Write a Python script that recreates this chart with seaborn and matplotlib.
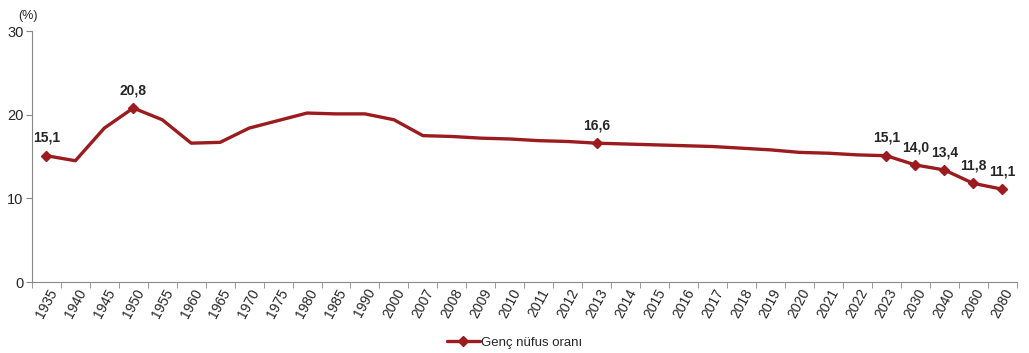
import numpy as np
import pandas as pd
import seaborn as sns
import matplotlib.pyplot as plt

# ---------------------------------------------------------
# Data
# ---------------------------------------------------------
years = ["1935", "1940", "1945", "1950", "1955", "1960", "1965", "1970", "1975",
         "1980", "1985", "1990", "2000", "2007", "2008", "2009", "2010", "2011",
         "2012", "2013", "2014", "2015", "2016", "2017", "2018", "2019", "2020",
         "2021", "2022", "2023", "2030", "2040", "2060", "2080"]
youth_share = [15.1, 14.5, 18.4, 20.8, 19.4, 16.6, 16.7, 18.4, 19.3,
               20.2, 20.1, 20.1, 19.4, 17.5, 17.4, 17.2, 17.1, 16.9,
               16.8, 16.6, 16.5, 16.4, 16.3, 16.2, 16.0, 15.8, 15.5,
               15.4, 15.2, 15.1, 14.0, 13.4, 11.8, 11.1]
labelled_years = ["1935", "1950", "2013", "2023", "2030", "2040", "2060", "2080"]

df = pd.DataFrame({"year": years, "value": youth_share})
df["pos"] = np.arange(len(df))
marked = df[df["year"].isin(labelled_years)]

color = "#9B1B1E"

# ---------------------------------------------------------
# Figure
# ---------------------------------------------------------
sns.set_style("white")
plt.rcParams["font.family"] = ["Liberation Sans", "DejaVu Sans"]

fig = plt.figure(figsize=(10.29, 3.53), dpi=100)
ax = fig.add_axes([0.031, 0.201, 0.957, 0.711])

sns.lineplot(data=df, x="pos", y="value", color=color, linewidth=2.4, ax=ax,
             legend=False)
ax.plot(marked["pos"], marked["value"], linestyle="none", marker="D",
        markersize=5, color=color)

for _, r in marked.iterrows():
    ax.text(r["pos"], r["value"] + 1.3, f"{r['value']:.1f}".replace(".", ","),
            ha="center", va="bottom", fontsize=10, fontweight="bold")

ax.set_xlim(-0.5, len(df) - 0.5)
ax.set_ylim(0, 30)
ax.set_yticks([0, 10, 20, 30])
ax.set_xticks(df["pos"])
ax.set_xticklabels(years, rotation=62, ha="center", fontsize=10)
ax.set_xticks(np.arange(-0.5, len(df)), minor=True)
ax.tick_params(axis="x", which="major", length=0, pad=3)
ax.tick_params(axis="x", which="minor", length=4, color="#888888", bottom=True)
ax.tick_params(axis="y", length=4, color="#888888", left=True, labelsize=10.5, pad=2)
ax.set_xlabel("")
ax.set_ylabel("")

for side in ["top", "right"]:
    ax.spines[side].set_visible(False)
for side in ["left", "bottom"]:
    ax.spines[side].set_color("#888888")
    ax.spines[side].set_linewidth(0.8)

fig.text(0.018, 0.955, "(%)", fontsize=9, ha="left", va="center")

handle = plt.Line2D([], [], color=color, linewidth=2.4, marker="D", markersize=5)
fig.legend([handle], ["Genç nüfus oranı"], loc="center", bbox_to_anchor=(0.50, 0.03),
           frameon=False, fontsize=9.5, handlelength=2.5, handletextpad=0.1)

fig.savefig("out.png", dpi=100)
